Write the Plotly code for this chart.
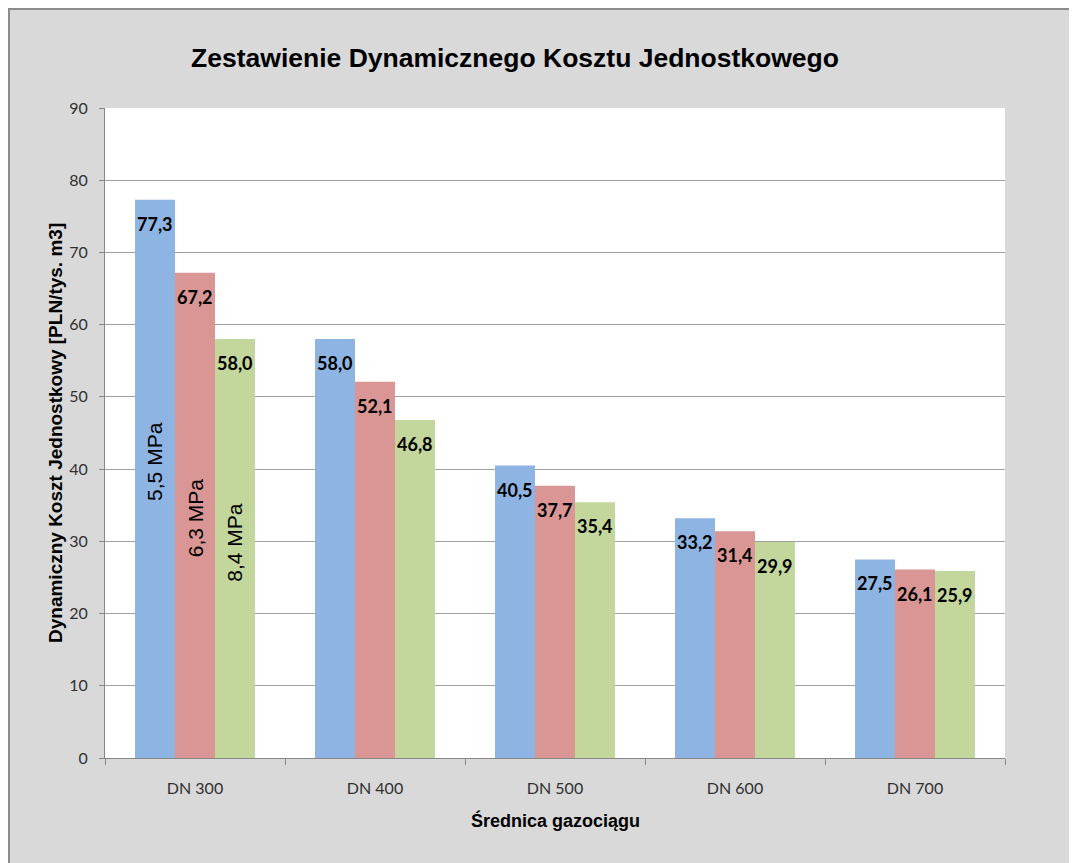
import plotly.graph_objects as go

categories = ["DN 300", "DN 400", "DN 500", "DN 600", "DN 700"]
series_names = ["5,5 MPa", "6,3 MPa", "8,4 MPa"]
values_55 = [77.3, 58.0, 40.5, 33.2, 27.5]
values_63 = [67.2, 52.1, 37.7, 31.4, 26.1]
values_84 = [58.0, 46.8, 35.4, 29.9, 25.9]
series_values = [values_55, values_63, values_84]
colors = ["#8EB4E3", "#D99694", "#C3D69B"]
name_label_y = [41.0, 33.2, 29.8]

title_text = "Zestawienie Dynamicznego Kosztu Jednostkowego"
x_title = "Średnica gazociągu"
y_title = "Dynamiczny Koszt Jednostkowy [PLN/tys. m3]"

W, H = 1069, 855
L, T = 97, 100
PW, PH = 900, 650
R, B = W - L - PW, H - T - PH

bargap = 1 / 3
barw = (1 - bargap) / len(series_values)

fig = go.Figure()
for name, vals, col in zip(series_names, series_values, colors):
    fig.add_trace(go.Bar(x=categories, y=vals, name=name,
                         marker=dict(color=col, line=dict(width=0))))

annotations = []
# data labels
for si, vals in enumerate(series_values):
    off = (si - (len(series_values) - 1) / 2) * barw
    for ci, v in enumerate(vals):
        annotations.append(dict(
            x=ci + off, y=v, xref="x", yref="y",
            text="<b>" + f"{v:.1f}".replace(".", ",") + "</b>", showarrow=False,
            yanchor="middle", xanchor="center", yshift=-24,
            font=dict(family="Lato, Open Sans, sans-serif", size=18, color="#000000")))
# rotated series names inside first group
for si, name in enumerate(series_names):
    off = (si - (len(series_values) - 1) / 2) * barw
    annotations.append(dict(
        x=0 + off, y=name_label_y[si], xref="x", yref="y",
        text=name, showarrow=False, textangle=-90,
        font=dict(family="Liberation Sans, Arial, sans-serif", size=21, color="#000000")))
# axis titles
annotations.append(dict(
    x=0.5, y=0, xref="paper", yref="paper", yshift=-62,
    text=f"<b>{x_title}</b>", showarrow=False, yanchor="middle",
    font=dict(family="Liberation Sans, Arial, sans-serif", size=18, color="#000000")))
annotations.append(dict(
    x=0, y=0.5, xref="paper", yref="paper", xshift=-50,
    text=f"<b>{y_title}</b>", showarrow=False, textangle=-90, xanchor="center",
    font=dict(family="Liberation Sans, Arial, sans-serif", size=19, color="#000000")))

def px_to_paper_x(px):
    return (px - L) / PW

def px_to_paper_y(py):
    return (T + PH - py) / PH

shapes = [
    dict(type="rect", xref="paper", yref="paper", layer="above",
         x0=px_to_paper_x(1), x1=px_to_paper_x(W + 20), y0=px_to_paper_y(H + 20), y1=px_to_paper_y(1),
         fillcolor="rgba(0,0,0,0)", line=dict(color="#8C8C8C", width=2)),
]

fig.update_layout(
    width=W, height=H,
    margin=dict(l=L, r=R, t=T, b=B, autoexpand=False),
    paper_bgcolor="#D9D9D9", plot_bgcolor="#FFFFFF",
    barmode="group", bargap=bargap, bargroupgap=0,
    showlegend=False,
    title=dict(text=f"<b>{title_text}</b>", x=507 / W, xanchor="center",
               y=1 - 50 / H, yanchor="middle",
               font=dict(family="Liberation Sans, Arial, sans-serif", size=26.5, color="#000000")),
    annotations=annotations, shapes=shapes,
    xaxis=dict(type="category", showline=True, linecolor="#868686", linewidth=1,
               ticks="outside", ticklen=6, tickcolor="#868686", tickson="boundaries",
               ticklabelstandoff=16,
               tickfont=dict(family="Lato, Open Sans, sans-serif", size=16, color="#303030"),
               showgrid=False),
    yaxis=dict(range=[0, 90], dtick=10, showline=True, linecolor="#868686", linewidth=1,
               ticks="outside", ticklen=5, tickcolor="#868686",
               ticklabelstandoff=8,
               showgrid=True, gridcolor="#A0A0A0", gridwidth=1, zeroline=False,
               tickfont=dict(family="Lato, Open Sans, sans-serif", size=16, color="#303030")),
)

fig.write_html("out.html", post_script="document.body.style.overflow='hidden';")
